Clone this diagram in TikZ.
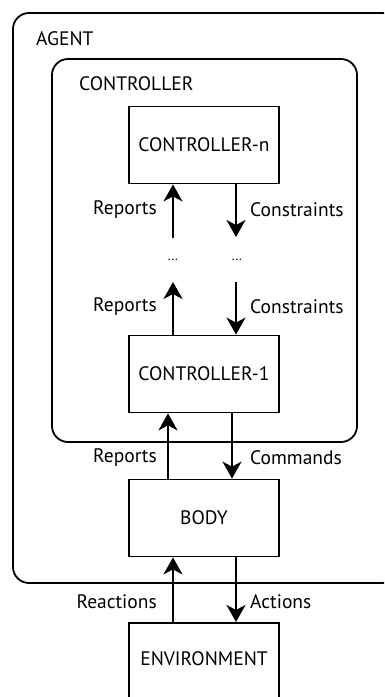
\documentclass[tikz,border=0pt]{standalone}
\usepackage{fontspec}
\setmainfont{PT Sans}
\usetikzlibrary{arrows.meta}
\begin{document}
\begin{tikzpicture}[x=1pt,y=-1pt,
  font=\fontsize{19.5pt}{22pt}\selectfont,
  frame/.style={draw, line width=1.8pt, rounded corners=16pt},
  box/.style={draw, line width=1.8pt, minimum width=150pt, minimum height=77pt, inner sep=0pt},
  arr/.style={line width=1.8pt, -{Stealth[length=17pt,width=19pt,inset=5pt]}},
  lbl/.style={inner sep=0pt}]
\useasboundingbox (0,0) rectangle (384,697);
\clip (0,0) rectangle (384,697);
\draw[frame] (13,13) rectangle (398,583);
\draw[frame] (52,59) rectangle (357,442);
\node[lbl, anchor=west] (agentlbl) at (36,39) {AGENT};
\node[lbl, anchor=west] (ctrllbl) at (79,84) {CONTROLLER};
\node[box] (cn) at (204,145) {CONTROLLER-n};
\node[box] (c1) at (204,374) {CONTROLLER-1};
\node[box] (body) at (204,518) {BODY};
\node[box, minimum height=100pt, anchor=north,
  label={[anchor=center, yshift=-37pt]north:ENVIRONMENT}] (env) at (204,622) {};
% dots
\node[lbl, font=\fontsize{13pt}{15pt}\selectfont] (d1) at (173,260) {...};
\node[lbl, font=\fontsize{13pt}{15pt}\selectfont] (d2) at (237,260) {...};
\coordinate (up1) at (173,238);
\coordinate (dn1) at (236,237);
\coordinate (up2) at (173,282);
\coordinate (dn2) at (236,282);
\draw[arr] (up1) -- (up1 |- cn.south);
\draw[arr] (cn.south -| dn1) -- (dn1);
\draw[arr] (c1.north -| up2) -- (up2);
\draw[arr] (dn2) -- (dn2 |- c1.north);
\coordinate (up3) at (168,0);
\coordinate (dn3) at (232,0);
\draw[arr] (body.north -| up3) -- (c1.south -| up3);
\draw[arr] (c1.south -| dn3) -- (body.north -| dn3);
\coordinate (up4) at (173,0);
\coordinate (dn4) at (236,0);
\draw[arr] (env.north -| up4) -- (body.south -| up4);
\draw[arr] (body.south -| dn4) -- (env.north -| dn4);
% labels
\node[lbl, anchor=east] (r1) at (157,210) {Reports};
\node[lbl, anchor=west] (k1) at (250,210) {Constraints};
\node[lbl, anchor=east] (r2) at (157,307) {Reports};
\node[lbl, anchor=west] (k2) at (250,307) {Constraints};
\node[lbl, anchor=east] (r3) at (157,458) {Reports};
\node[lbl, anchor=west] (k3) at (250,458) {Commands};
\node[lbl, anchor=east] (r4) at (157,602) {Reactions};
\node[lbl, anchor=west] (k4) at (250,602) {Actions};
\end{tikzpicture}
\end{document}
